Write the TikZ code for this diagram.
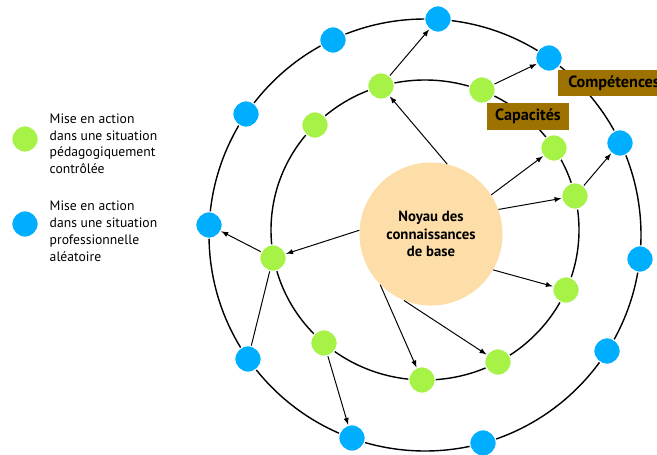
\documentclass[tikz,border=0pt]{standalone}
\usepackage{fontspec}
\setmainfont{PT Sans}
\usetikzlibrary{positioning,backgrounds}

\definecolor{vert}{RGB}{166,242,70}
\definecolor{bleu}{RGB}{0,174,255}
\definecolor{peche}{RGB}{253,221,168}
\definecolor{ocre}{RGB}{158,114,0}

\begin{document}
\begin{tikzpicture}[x=0.025cm,y=-0.025cm]

\tikzstyle{pedago}=[circle,fill=vert,draw=white,line width=0.8pt,minimum size=0.66cm,inner sep=0pt]
\tikzstyle{pro}=[circle,fill=bleu,draw=white,line width=0.8pt,minimum size=0.66cm,inner sep=0pt]
\tikzstyle{anneau}=[line width=1pt]
\tikzstyle{fleche}=[line width=0.7pt,-latex]
\tikzstyle{etiquette}=[fill=ocre,text=black,inner sep=0pt,font=\fontsize{11.5}{13}\selectfont\bfseries]

\useasboundingbox (0,0) rectangle (657,454);
\clip (0,0) rectangle (657,454);

% legende
\node (leg_vert) [pedago] at (25,139) {};
\node (leg_bleu) [pro] at (25,224) {};
\node (txt_vert) [right=0.15cm of leg_vert,yshift=-0.12cm,align=left,font=\fontsize{9.7}{11.9}\selectfont] {Mise en action\\dans une situation\\pédagogiquement\\contrôlée};
\node (txt_bleu) [right=0.15cm of leg_bleu,yshift=-0.18cm,align=left,font=\fontsize{9.7}{11.9}\selectfont] {Mise en action\\dans une situation\\professionnelle\\aléatoire};

% noyau
\node (noyau) [circle,fill=peche,minimum size=3.575cm,align=center,font=\fontsize{10.5}{12.4}\selectfont\bfseries] at (431,234) {Noyau des\\connaissances\\de base};

% anneau interieur
\node (v1) [pedago] at (381,86) {};
\node (v2) [pedago] at (315,125) {};
\node (v3) [pedago] at (482,90) {};
\node (v4) [pedago] at (554,148) {};
\node (v5) [pedago] at (575,196) {};
\node (v6) [pedago] at (273,258) {};
\node (v7) [pedago] at (566,290) {};
\node (v8) [pedago] at (324,343) {};
\node (v9) [pedago] at (422,380) {};
\node (v10) [pedago] at (498,362) {};

% anneau exterieur
\node (b1) [pro] at (438,19) {};
\node (b2) [pro] at (333,40) {};
\node (b3) [pro] at (549,58) {};
\node (b4) [pro] at (246,114) {};
\node (b5) [pro] at (620,143) {};
\node (b6) [pro] at (209,225) {};
\node (b7) [pro] at (640,259) {};
\node (b8) [pro] at (248,359) {};
\node (b9) [pro] at (607,351) {};
\node (b10) [pro] at (352,438) {};
\node (b11) [pro] at (483,443) {};

\begin{scope}[on background layer]
\draw [anneau] (425,230) ellipse [x radius=154,y radius=150];
\draw [anneau] (425,235) circle [radius=216];
\end{scope}

% fleches du noyau
\draw [fleche] (noyau.77) -- (v1);
\draw [fleche] (noyau.33) -- (v4);
\draw [fleche] (noyau.20) -- (v5);
\draw [fleche] (noyau.-30) -- (v7);
\draw [fleche] (noyau.177) -- (v6);
\draw [fleche] (noyau.-135) -- (v9);
\draw [fleche] (noyau.-112) -- (v10);

% vers l'anneau exterieur
\draw [fleche] (v1) -- (b1);
\draw [fleche] (v3) -- (b3);
\draw [fleche] (v5) -- (b5);
\draw [fleche] (v6) -- (b6);
\draw [fleche] (v8) -- (b10);
\draw [line width=0.7pt] (v6) -- (b8);

% etiquettes
\node (capacites) [etiquette,minimum width=2.05cm,minimum height=0.675cm] at (528,116.5) {Capacités};
\node (competences) [etiquette,anchor=west,minimum height=0.65cm,inner xsep=0.25cm] at (558,83) {Compétences};

\end{tikzpicture}
\end{document}
